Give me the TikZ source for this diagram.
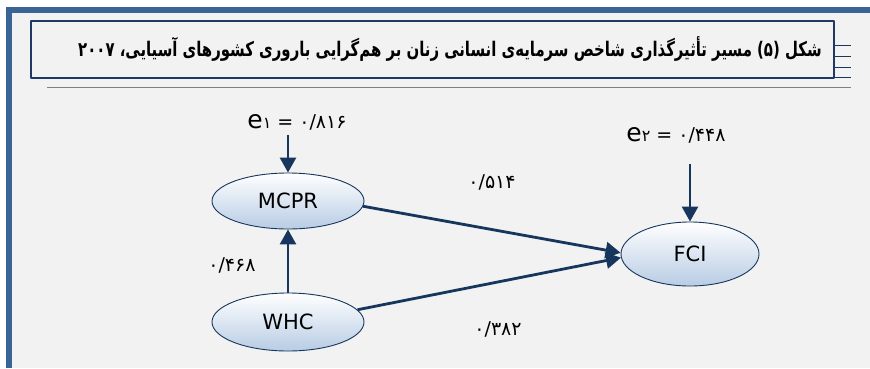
\documentclass[tikz,border=0pt]{standalone}
\usepackage{graphicx}
\usepackage{fontspec}
\setmainfont{DejaVu Sans}
\newfontfamily\farsi[Script=Arabic]{DejaVu Sans}
\usetikzlibrary{shapes.geometric,arrows.meta,backgrounds}
\TeXXeTstate=1
\definecolor{navy}{RGB}{23,54,93}
\definecolor{framblue}{RGB}{58,99,150}
\definecolor{boxnavy}{RGB}{31,56,100}
\definecolor{paper}{RGB}{242,242,242}
\definecolor{skyblue}{RGB}{184,204,228}
\begin{document}
\begin{tikzpicture}[x=1pt,y=-1pt,line join=round,
	>={Triangle[length=15pt,width=16pt]},
	latent/.style={ellipse,draw=navy,line width=0.9pt,top color=white,bottom color=skyblue,
		inner sep=0pt,font=\fontsize{21}{24}\selectfont},
	path/.style={->,draw=navy,line width=2.8pt},
	coef/.style={inner sep=0pt,font=\farsi\fontsize{19}{22}\selectfont},
	trace/.style={draw=navy,line width=0.6pt}]
	\useasboundingbox (0,0) rectangle (870,368);
	\fill[white] (0,0) rectangle (870,368);
	\fill[framblue] (6,7) rectangle (870,368);
	\fill[paper] (12,13) rectangle (870,368);
	% title
	\node[draw=boxnavy,line width=2.4pt,fill=paper,minimum width=803pt,minimum height=57pt,inner sep=0pt]
		(titlebox) at (432.5,49.5) {};
	\node[inner sep=0pt,font=\farsi\bfseries\fontsize{14.9}{18}\selectfont] (title) at (450,49)
		{\scalebox{1}[1.35]{\beginR شکل (۵) مسیر تأثیرگذاری شاخص سرمایه^^^^200cی انسانی زنان بر هم^^^^200cگرایی باروری کشورهای آسیایی، \beginL۲۰۰۷\endL\endR}};
	\foreach \y in {45,56,67,77}
		\draw[trace] (835,\y) -- (851,\y);
	\draw[trace,draw=gray] (47,87) -- (851,87);
	% model
	\node[latent,minimum width=152pt,minimum height=56pt] (mcpr) at (288,201) {MCPR};
	\node[latent,minimum width=152pt,minimum height=58pt] (whc) at (288,322) {WHC};
	\node[latent,minimum width=138pt,minimum height=64pt] (fci) at (690,254) {FCI};
	\node[coef] (e1) at (297,122) {{\fontsize{25}{26}\selectfont e}{\fontsize{16}{18}\selectfont ۱} = ۰/۸۱۶};
	\node[coef] (e2) at (676,135) {{\fontsize{25}{26}\selectfont e}{\fontsize{16}{18}\selectfont ۲} = ۰/۴۴۸};
	\coordinate (e1tail) at (288,135);
	\coordinate (e2tail) at (690,164);
	\draw[path] (e1tail) -- (mcpr.north);
	\draw[path] (e2tail) -- (fci.north);
	\draw[path] (whc.north) -- (mcpr.south);
	\draw[path] (mcpr.-4) -- (fci.179);
	\draw[path] (whc.10) -- (fci.183);
	\node[coef] (p1) at (492,182) {۰/۵۱۴};
	\node[coef] (p2) at (232,265) {۰/۴۶۸};
	\node[coef] (p3) at (498,329) {۰/۳۸۲};
	% traces under the ellipses
	\begin{scope}[on background layer]
		\draw[trace] ([shift={(-64,17)}]mcpr.center) -- +(135,0);
		\draw[trace] ([shift={(-56,27)}]mcpr.center) -- +(107,0);
		\draw[trace] ([shift={(-68,16)}]whc.center) -- +(142,0);
		\draw[trace] ([shift={(-53,26)}]whc.center) -- +(110,0);
		\draw[trace] ([shift={(-55,23)}]fci.center) -- +(125,0);
		\draw[trace] ([shift={(-37,34)}]fci.center) -- +(79,0);
	\end{scope}
\end{tikzpicture}
\end{document}
